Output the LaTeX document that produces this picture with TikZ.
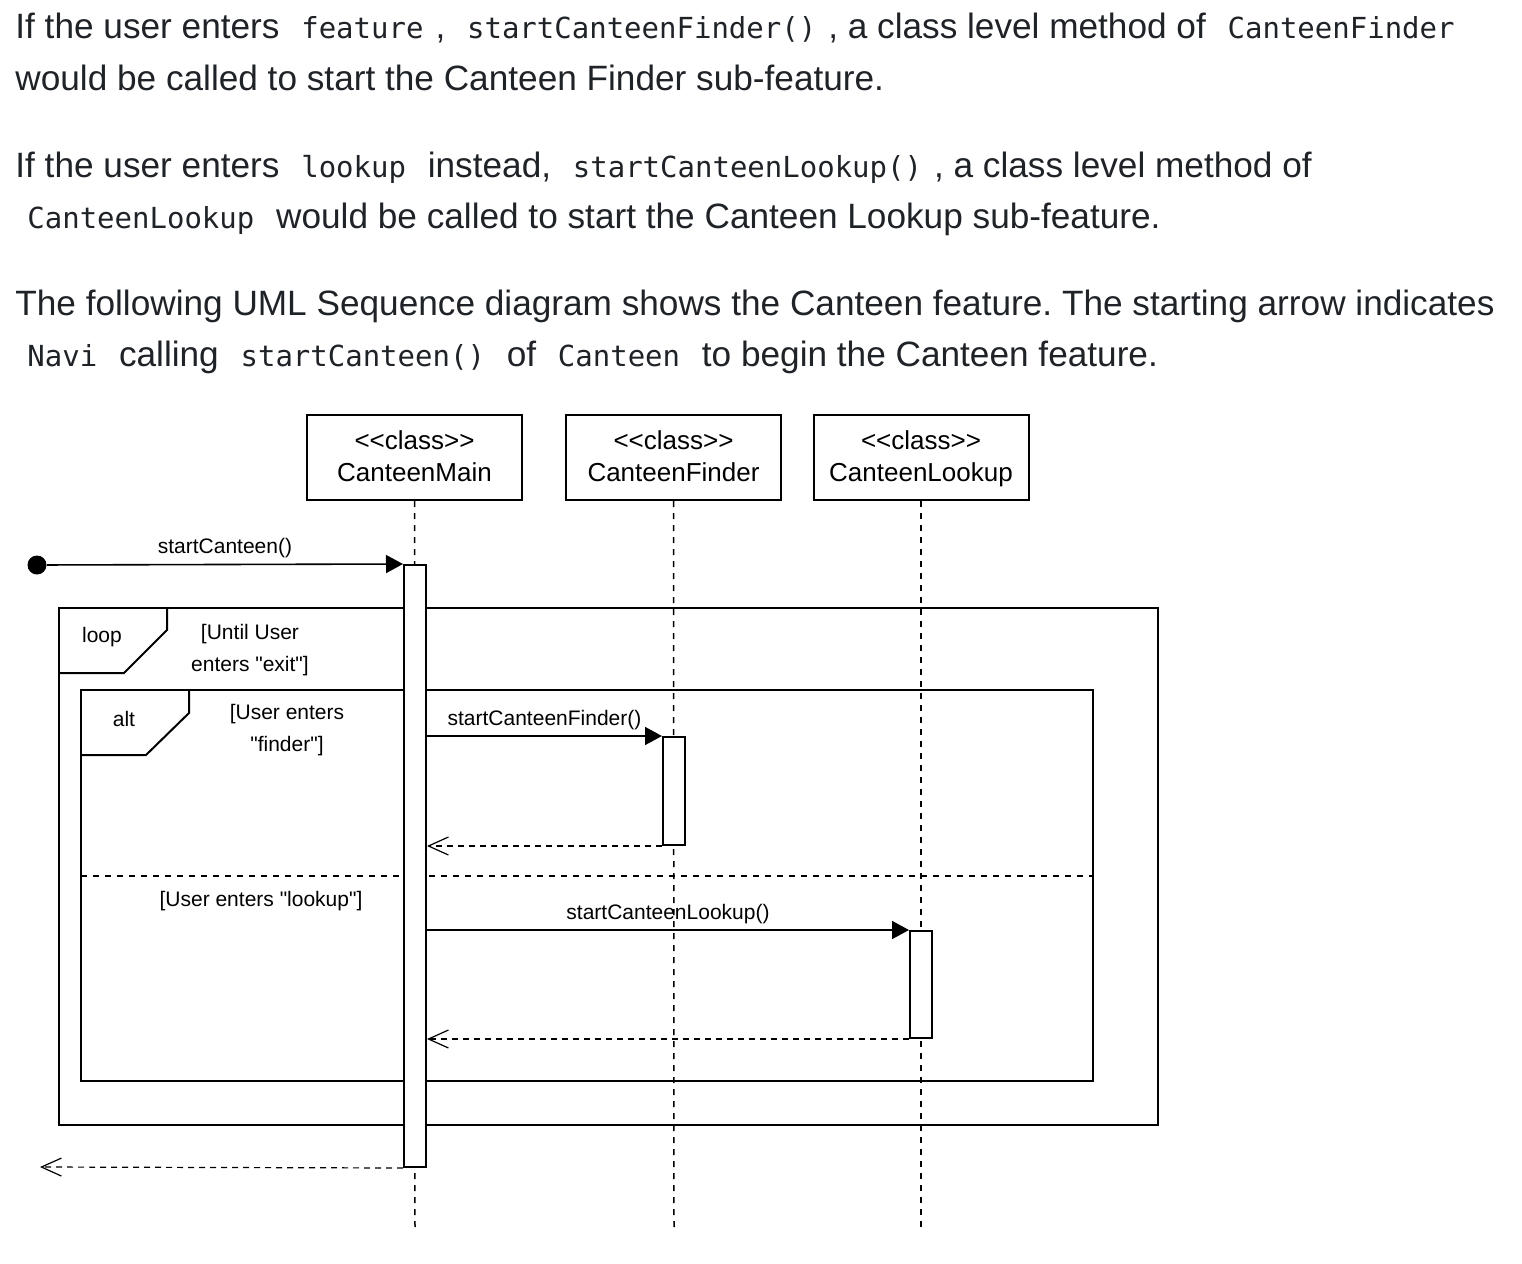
\documentclass[tikz,border=0pt]{standalone}
\usepackage{fontspec}
\setmainfont{Liberation Sans}
\newfontfamily\codefont{DejaVu Sans Mono}
\usetikzlibrary{arrows.meta,positioning}
\definecolor{bodytext}{HTML}{1F2328}
\frenchspacing
\newcommand{\code}[1]{\hspace{6pt}{\codefont\fontsize{14.5pt}{26pt}\selectfont #1}\hspace{6pt}}
\newcommand{\stereo}[1]{<\kern0pt<#1>\kern0pt>}
\newcommand{\dq}{\XeTeXglyph\XeTeXcharglyph"22\relax}
\newcommand{\boxtop}{\rule{0pt}{13.2pt}}

\begin{document}
\begin{tikzpicture}[x=0.5pt,y=0.5pt,
  txt/.style={anchor=base west, text=bodytext, font=\fontsize{17.6pt}{26pt}\selectfont},
  classbox/.style={draw, line width=1pt, minimum width=107.5pt, minimum height=42.5pt, align=center, font=\fontsize{13pt}{16pt}\selectfont},
  lifeline/.style={dash pattern=on 3pt off 3pt, line width=0.75pt},
  actbar/.style={draw, fill=white, line width=1pt, minimum width=11pt},
  call/.style={-{Triangle[length=8.5pt,width=9pt]}, line width=0.8pt},
  reply/.style={-{Straight Barb[length=10pt,width=9pt]}, dash pattern=on 3pt off 2.5pt, line width=0.6pt},
  lbl/.style={font=\fontsize{10.5pt}{16pt}\selectfont, align=center},
  frame/.style={line width=1pt}]
\tikzstyle{every node}+=[inner sep=0pt]
\useasboundingbox (0,0) rectangle (1522,-1264);
% text above the diagram
\node[txt] (line1) at (15,-38) {If the user enters \code{feature}, \code{startCanteenFinder()}, a class level method of \code{CanteenFinder}};
\node[txt] (line2) at (15,-90) {would be called to start the Canteen Finder sub-feature.};
\node[txt] (line3) at (15,-177) {If the user enters \code{lookup} instead, \code{startCanteenLookup()}, a class level method of};
\node[txt] (line4) at (15,-228) {\code{CanteenLookup} would be called to start the Canteen Lookup sub-feature.};
\node[txt] (line5) at (15,-315) {The following UML Sequence diagram shows the Canteen feature. The starting arrow indicates};
\node[txt] (line6) at (15,-366) {\code{Navi} calling \code{startCanteen()} of \code{Canteen} to begin the Canteen feature.};
% loop and alt frames
\draw[frame] (59,-608) rectangle (1158,-1125);
\draw[frame] (59,-608) ++(108,0) -- ++(0,-22) -- ++(-43,-43) -- ++(-65,0);
\node[lbl] (loopTag) at (102,-637) {loop};
\node[lbl] (loopGuard) at (250,-650) {[Until User\\enters \dq exit\dq]};
\draw[frame] (81,-690) rectangle (1093,-1081);
\draw[frame] (81,-690) ++(108,0) -- ++(0,-23) -- ++(-43,-42) -- ++(-65,0);
\node[lbl] (altTag) at (124,-719) {alt};
\node[lbl] (altGuardA) at (287,-730) {[User enters\\\dq finder\dq]};
\draw[lifeline] (81,-876) -- (1093,-876);
\node[lbl] (altGuardB) at (261,-901) {[User enters \dq lookup\dq]};
% classes and lifelines
\node[classbox] (mainBox) at (414.5,-457.5) {\stereo{class}\boxtop\\CanteenMain\strut};
\node[classbox] (finderBox) at (673.5,-457.5) {\stereo{class}\boxtop\\CanteenFinder\strut};
\node[classbox] (lookupBox) at (921,-457.5) {\stereo{class}\boxtop\\CanteenLookup\strut};
\coordinate (mainEnd) at (415,-1230);
\coordinate (finderEnd) at (674,-1230);
\coordinate (lookupEnd) at (921,-1230);
\draw[lifeline] (mainBox.south) -- (mainEnd);
\draw[lifeline] (finderBox.south) -- (finderEnd);
\draw[lifeline] (lookupBox.south) -- (lookupEnd);
% activation bars
\node[actbar, minimum height=301pt] (mainBar) at (415,-866) {};
\node[actbar, minimum height=54pt] (finderBar) at (674,-791) {};
\node[actbar, minimum height=53.5pt] (lookupBar) at (921,-984.5) {};
% messages
\node[circle, fill, minimum size=9.5pt] (navi) at (37,-565) {};
\coordinate (naviEnd) at (40,-1167);
\draw[call] (navi) -- node[lbl, yshift=8pt] {startCanteen()} (mainBar.north west);
\draw[call] (mainBar.east |- finderBar.north) -- node[lbl, yshift=8pt] {startCanteenFinder()} (finderBar.north west);
\draw[reply] (finderBar.south west) -- (mainBar.east |- finderBar.south);
\draw[call] (mainBar.east |- lookupBar.north) -- node[lbl, yshift=8pt] {startCanteenLookup()} (lookupBar.north west);
\draw[reply] (lookupBar.south west) -- (mainBar.east |- lookupBar.south);
\draw[reply] (mainBar.south west) -- (naviEnd);
\end{tikzpicture}
\end{document}
